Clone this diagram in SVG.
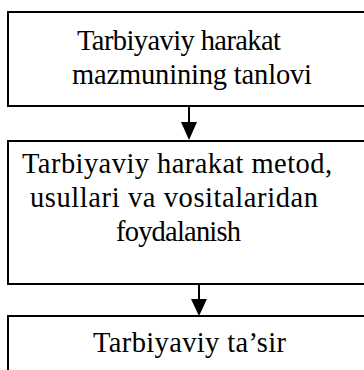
<svg xmlns="http://www.w3.org/2000/svg" width="364" height="370" viewBox="0 0 364 370">
<style>
.box{fill:#fff;stroke:#000;stroke-width:2}
.t{font-family:"Liberation Serif","Times New Roman",serif;font-size:28.5px;fill:#000}
.conn line{stroke:#000;stroke-width:2}
.conn polygon{fill:#000}
</style>
<rect width="364" height="370" fill="#fff"/>
<g id="node1">
<rect class="box" x="8" y="12" width="370" height="94"/>
<text class="t" x="77" y="50" textLength="204">Tarbiyaviy harakat</text>
<text class="t" x="72" y="84" textLength="240">mazmunining tanlovi</text>
</g>
<g id="node2">
<rect class="box" x="8" y="141" width="370" height="143"/>
<text class="t" x="22" y="173" textLength="310">Tarbiyaviy harakat metod,</text>
<text class="t" x="30" y="207" textLength="288">usullari va vositalaridan</text>
<text class="t" x="116" y="241" textLength="125">foydalanish</text>
</g>
<g id="node3">
<rect class="box" x="8" y="316" width="370" height="80"/>
<text class="t" x="93" y="352" textLength="193">Tarbiyaviy ta’sir</text>
</g>
<g class="conn" id="connectors">
<line x1="189" y1="106" x2="189" y2="124"/>
<polygon points="181,122 197,122 189,140"/>
<line x1="199" y1="284" x2="199" y2="301"/>
<polygon points="191,299 207,299 199,316"/>
</g>
</svg>
